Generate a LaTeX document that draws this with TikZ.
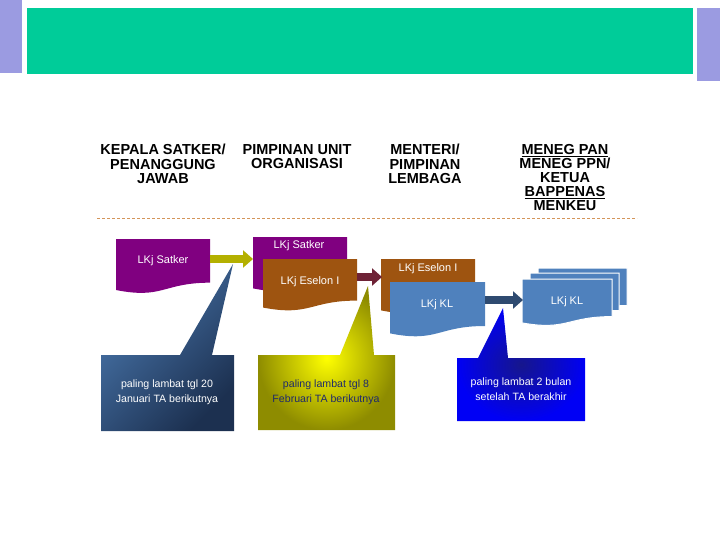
\documentclass[tikz,border=0pt]{standalone}
\usepackage{fontspec}
\setmainfont{Liberation Sans}
\usetikzlibrary{arrows.meta}

\definecolor{headgreen}{HTML}{00CC99}
\definecolor{barviolet}{HTML}{9B9BE1}
\definecolor{docpurple}{HTML}{800080}
\definecolor{docbrown}{HTML}{9E5410}
\definecolor{docblue}{HTML}{4F81BD}
\definecolor{lineorange}{HTML}{D4955A}
\definecolor{arrolive}{HTML}{B4B000}
\definecolor{arrmaroon}{HTML}{6E2236}
\definecolor{arrnavy}{HTML}{2E4A70}
\definecolor{calsteel}{HTML}{4A78AE}
\definecolor{calnavy}{HTML}{1C3050}
\definecolor{calolive}{HTML}{8E8C00}
\definecolor{calblue}{HTML}{0000F5}
\definecolor{caldeep}{HTML}{16168C}
\definecolor{textnavy}{HTML}{1F2A6B}

% document shape: x, y (top), width, height, colour
\newcommand{\lkjdoc}[5]{%
  \begin{scope}[shift={(#1,#2)}]
    \fill[#5] (0,0) -- (#3,0) -- (#3,{0.8*#4})
      .. controls ({0.5*#3},{0.8*#4}) and ({0.5*#3},{1.107*#4}) .. (0,{0.934*#4}) -- cycle;
  \end{scope}}

\tikzset{
  head/.style={anchor=north,align=center,inner sep=0pt,font=\fontsize{14.5}{14.6}\selectfont\bfseries},
  doclabel/.style={text=white,inner sep=0pt,font=\fontsize{11}{13}\selectfont},
  notetext/.style={align=center,inner sep=0pt,font=\fontsize{10.6}{15}\selectfont},
  blockarrow/.style={line width=8pt,-{Triangle[length=10pt,width=17pt]},#1}
}

\begin{document}
\begin{tikzpicture}[x=1pt,y=-1pt]
	\useasboundingbox (0,0) rectangle (720,540);

	% banner
	\fill[barviolet] (0,0) rectangle (22,73);
	\fill[headgreen] (27,8) rectangle (693,74);
	\fill[barviolet] (697,8) rectangle (720,81);

	% column heads
	\node[head] (h1) at (163,144) {KEPALA SATKER/\\PENANGGUNG\\JAWAB};
	\node[head] (h2) at (297,144) {PIMPINAN UNIT\\ORGANISASI};
	\node[head] (h3) at (425,144) {MENTERI/\\PIMPINAN\\LEMBAGA};
	\node[head,font=\fontsize{14.5}{14}\selectfont\bfseries] (h4) at (565,144)
		{\underline{MENEG PAN}\\MENEG PPN/\\KETUA\\\underline{BAPPENAS}\\MENKEU};
	\draw[lineorange,line width=0.8pt,dash pattern=on 3pt off 2pt] (97,218) -- (637,218);

	%---------------------
	% callouts
	%---------------------
	\shade[top color=calsteel,bottom color=calnavy,shading angle=45]
		(101,355) -- (180,355) -- (233,264) -- (212,355) -- (234,355)
		-- (234,431) -- (101,431) -- cycle;
	\node[notetext,text=white] (noteA) at (167,392) {paling lambat tgl 20\\Januari TA berikutnya};

	\shade[inner color=yellow,outer color=calolive]
		(258,355) -- (340,355) -- (368,286) -- (374,355) -- (395,355)
		-- (395,430) -- (258,430) -- cycle;
	\node[notetext,text=textnavy] (noteB) at (326,392) {paling lambat tgl 8\\Februari TA berikutnya};

	\shade[inner color=caldeep,outer color=calblue]
		(457,358) -- (478,358) -- (503,308) -- (508,358) -- (585,358)
		-- (585,421) -- (457,421) -- cycle;
	\node[notetext,text=white] (noteC) at (521,389) {paling lambat 2 bulan\\setelah TA berakhir};

	%---------------------
	% documents
	%---------------------
	% satker
	\lkjdoc{116}{239}{94}{54.6}{docpurple}
	\node[doclabel] (satkerA) at (163,261) {LKj Satker};

	% unit organisasi
	\lkjdoc{253}{237}{94}{55}{docpurple}
	\node[doclabel] (satkerB) at (299,246) {LKj Satker};
	\lkjdoc{263}{259}{94}{52}{docbrown}
	\node[doclabel] (eselonA) at (310,282) {LKj Eselon I};

	% kementerian / lembaga
	\lkjdoc{381}{259}{94}{55}{docbrown}
	\node[doclabel] (eselonB) at (428,269) {LKj Eselon I};
	\lkjdoc{390}{282}{95}{55}{docblue}
	\node[doclabel] (klA) at (437,305) {LKj KL};

	% meneg pan / ppn / menkeu
	\lkjdoc{538}{268}{89}{47}{docblue,draw=white,line width=1pt}
	\lkjdoc{530}{273}{89}{47}{docblue,draw=white,line width=1pt}
	\lkjdoc{522}{279}{90}{47}{docblue,draw=white,line width=1pt}
	\node[doclabel] (klB) at (567,302) {LKj KL};

	%---------------------
	% arrows
	%---------------------
	\coordinate (satkerA-out) at (210,259);
	\coordinate (satkerB-in) at (253,259);
	\coordinate (eselonA-out) at (357,277);
	\coordinate (eselonB-in) at (382,277);
	\coordinate (klA-out) at (485,300);
	\coordinate (klB-in) at (523,300);
	\draw[blockarrow=arrolive] (satkerA-out) -- (satkerB-in);
	\draw[blockarrow=arrmaroon] (eselonA-out) -- (eselonB-in);
	\draw[blockarrow=arrnavy] (klA-out) -- (klB-in);

\end{tikzpicture}
\end{document}
